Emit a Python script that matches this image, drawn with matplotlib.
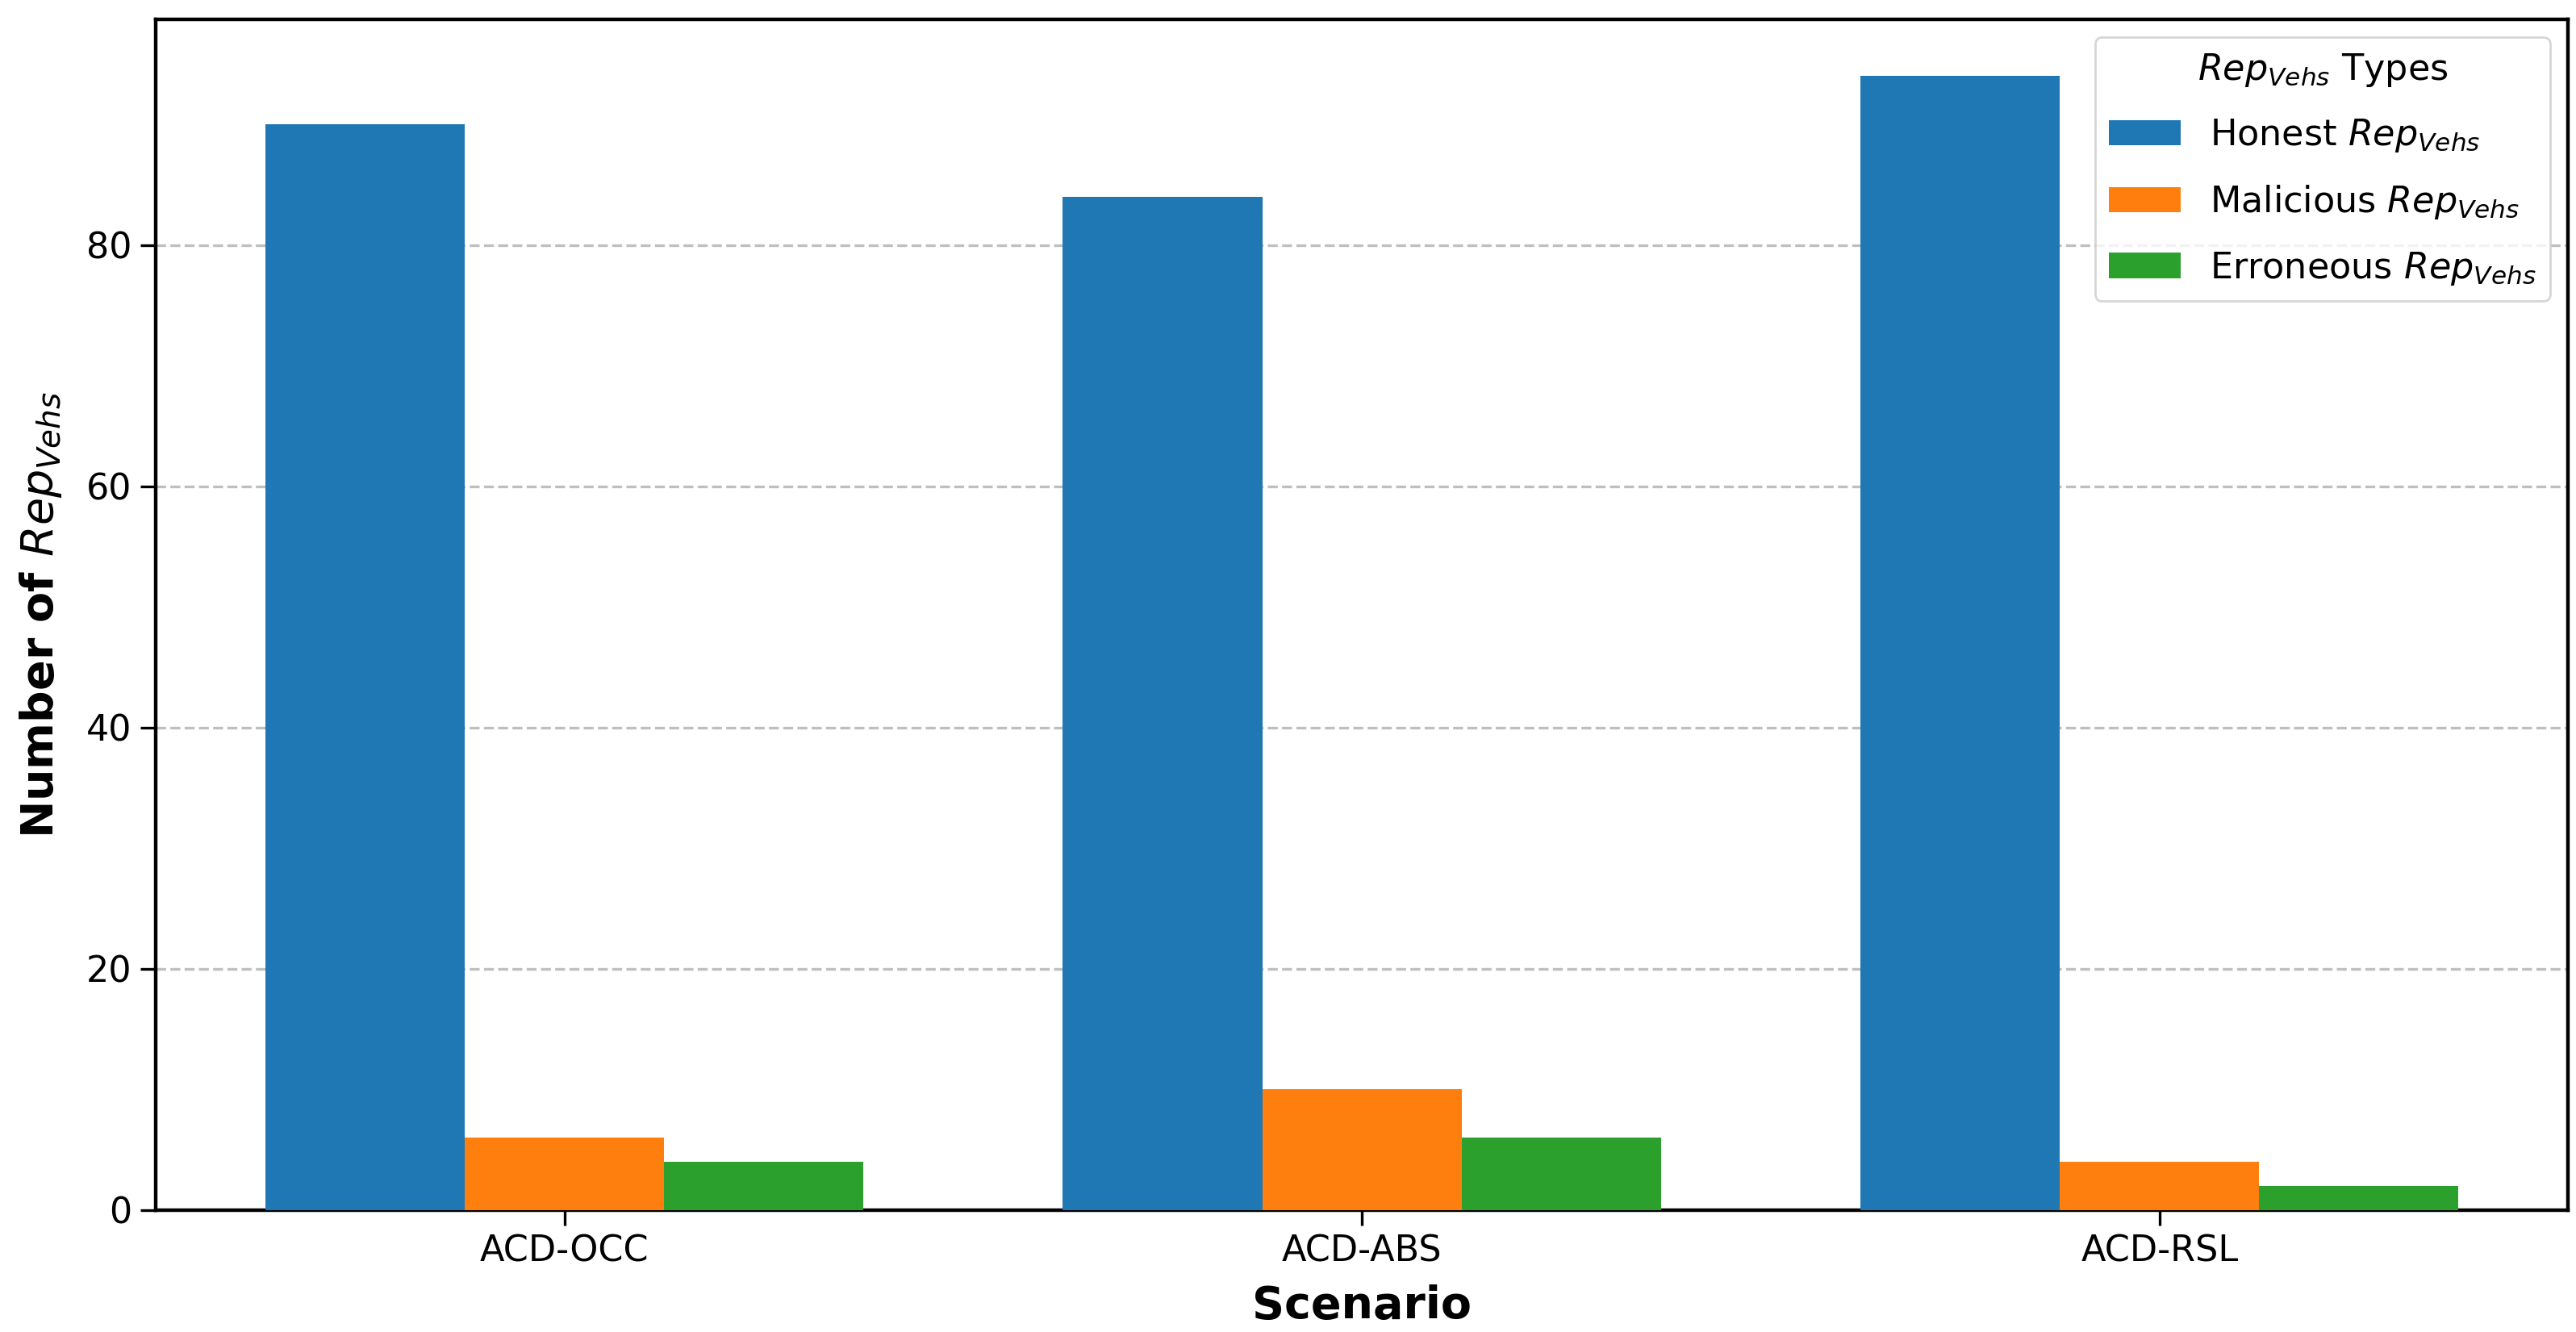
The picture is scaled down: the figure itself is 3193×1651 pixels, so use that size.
import matplotlib
matplotlib.use("Agg")
import matplotlib.pyplot as plt
import numpy as np

scenarios = ["ACD-OCC", "ACD-ABS", "ACD-RSL"]
honest = [90, 84, 94]
malicious = [6, 10, 4]
erroneous = [4, 6, 2]
series_labels = [r"Honest $Rep_{Vehs}$", r"Malicious $Rep_{Vehs}$", r"Erroneous $Rep_{Vehs}$"]
colors = ["#1f77b4", "#ff7f0e", "#2ca02c"]

fig = plt.figure(figsize=(3193 / 200, 1651 / 200), dpi=200)
ax = fig.add_axes([0.0604, 0.0915, 0.9366, 0.894])

x = np.arange(len(scenarios))
w = 0.25
for i, (vals, lab, c) in enumerate(zip([honest, malicious, erroneous], series_labels, colors)):
    ax.bar(x + (i - 1) * w, vals, w, label=lab, color=c, zorder=3)

ax.set_xticks(x)
ax.set_xticklabels(scenarios, fontsize=16)
ax.set_yticks([0, 20, 40, 60, 80])
ax.tick_params(axis="y", labelsize=16, length=7, width=1.2)
ax.tick_params(axis="x", length=7, width=1.2)
ax.set_xlabel("Scenario", fontsize=20, fontweight="bold", labelpad=7)
ax.set_ylabel(r"Number of $Rep_{Vehs}$", fontsize=20, fontweight="bold", labelpad=10)
ax.yaxis.grid(True, linestyle="--", color="gray", alpha=0.5, linewidth=1.2, zorder=0)
for s in ax.spines.values():
    s.set_linewidth(1.6)

leg = ax.legend(title=r"$Rep_{Vehs}$ Types", loc="upper right", fontsize=16,
                title_fontsize=16, labelspacing=0.8)

fig.savefig("out.png", dpi=200)
